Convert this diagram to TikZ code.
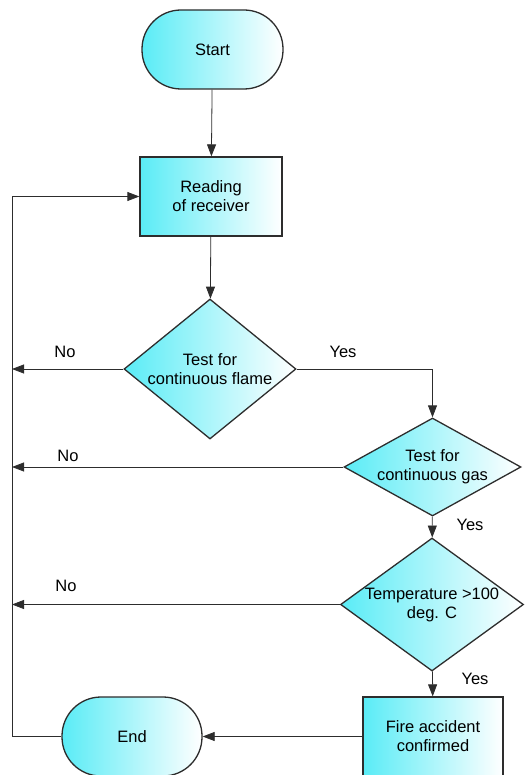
\documentclass[tikz,border=0pt]{standalone}
\usepackage{fontspec}
\setmainfont{Liberation Sans}
\usetikzlibrary{positioning,shapes.geometric,arrows.meta,calc}

\definecolor{flowcyan}{RGB}{90,236,246}
\definecolor{flowline}{RGB}{45,45,45}

\begin{document}
\begin{tikzpicture}
  [
    x=1pt, y=-1pt,
    every node/.style={font=\fontsize{16.5}{19}\selectfont},
    terminal/.style={draw=flowline, line width=1.3pt, rectangle, rounded corners=39pt,
      left color=flowcyan, right color=white, minimum width=141pt, minimum height=79pt, align=center},
    process/.style={draw=flowline, line width=1.3pt, rectangle,
      left color=flowcyan, right color=white, minimum width=141pt, minimum height=79pt, align=center},
    decision/.style={draw=flowline, line width=1.3pt, diamond, inner sep=0pt,
      left color=flowcyan, right color=white},
    flow/.style={draw=flowline, line width=0.8pt, -{Triangle[length=12pt,width=9pt]}},
    answer/.style={inner sep=1pt},
  ]

  \useasboundingbox (0,0) rectangle (526,775);

  \node[terminal] (start) at (212.5,49.5) {Start};
  \node[process, minimum width=142pt] (read) at (211,196.5) {Reading\\of receiver};
  \node[decision, minimum width=172pt, minimum height=140pt,
    label={[align=center]center:Test for\\continuous flame}] (flame) at (210,369) {};
  \node[decision, minimum width=177pt, minimum height=98pt,
    label={[align=center]center:Test for\\continuous gas}] (gas) at (432.5,467) {};
  \node[decision, minimum width=183pt, minimum height=133pt,
    label={[align=center]center:Temperature >100\\deg. C}] (temp) at (432,604.5) {};
  \node[process, minimum width=140pt] (fire) at (433,736.5) {Fire accident\\confirmed};
  \node[terminal, minimum width=140pt] (end) at (132,736.5) {End};

  \coordinate (no1) at (12,369);
  \coordinate (no2) at (12,467);
  \coordinate (no3) at (12,604.5);
  \coordinate (back) at (12,736.5);

  \draw[flow] (start) -- (read);
  \draw[flow] (read) -- (flame);
  \draw[flow] (flame.east) -| (gas.north);
  \draw[flow] (gas) -- (temp);
  \draw[flow] (temp) -- (fire);
  \draw[flow] (fire) -- (end);
  \draw[flow] (end.west) -- (back) |- (read.west);

  \draw[flow] (flame.west) -- (no1);
  \draw[flow] (gas.west) -- (no2);
  \draw[flow] (temp.west) -- (no3);

  \node[answer] (n1) at (65,352) {No};
  \node[answer] (n2) at (68,456) {No};
  \node[answer] (n3) at (66,586) {No};
  \node[answer] (y1) at (343,352) {Yes};
  \node[answer] (y2) at (470,525) {Yes};
  \node[answer] (y3) at (475,679) {Yes};

\end{tikzpicture}
\end{document}
